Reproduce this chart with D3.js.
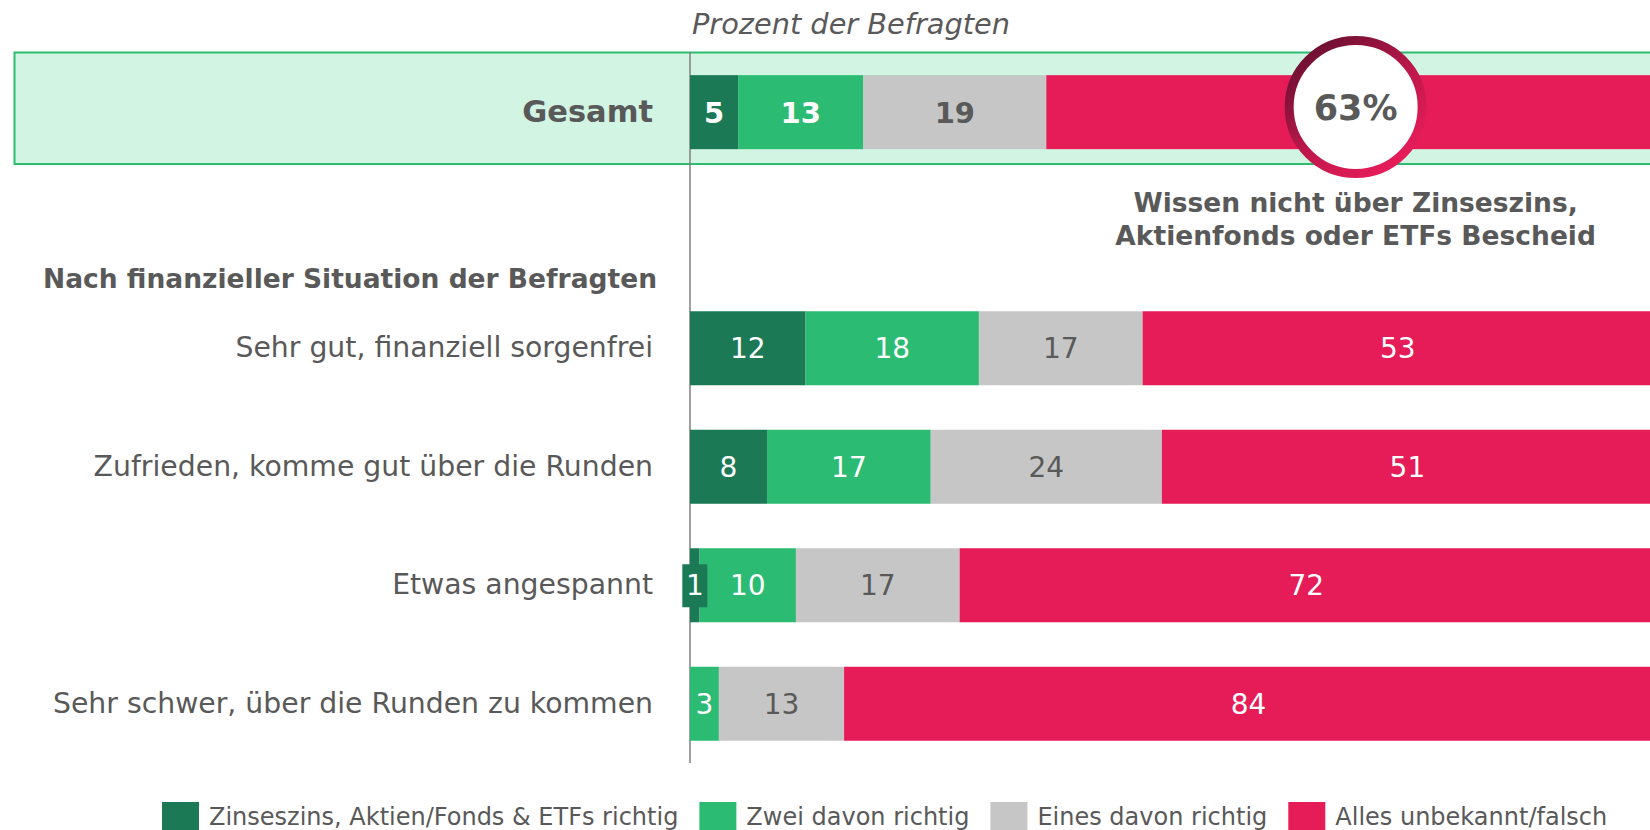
<!DOCTYPE html>
<html>
<head>
<meta charset="utf-8">
<script src="https://cdn.jsdelivr.net/npm/d3@7"></script>
<style>
  body { margin: 0; background: #fff; overflow: hidden; }
  svg text { font-family: "DejaVu Sans", "Noto Sans", sans-serif; }
</style>
</head>
<body>
<div id="chart"></div>
<script>
// Data
var totalLabel = ["Gesamt"];
var groups = ["Sehr gut, finanziell sorgenfrei", "Zufrieden, komme gut über die Runden", "Etwas angespannt", "Sehr schwer, über die Runden zu kommen"];
var seriesNames = ["Zinseszins, Aktien/Fonds & ETFs richtig", "Zwei davon richtig", "Eines davon richtig", "Alles unbekannt/falsch"];
var allRight = [5, 12, 8, 1, 0];
var twoRight = [13, 18, 17, 10, 3];
var oneRight = [19, 17, 24, 17, 13];
var noneRight = [63, 53, 51, 72, 84];
var groupTitle = "Nach finanzieller Situation der Befragten";
var axisTitle = "Prozent der Befragten";
var calloutLines = ["Wissen nicht über Zinseszins,", "Aktienfonds oder ETFs Bescheid"];

var width = 1650, height = 830;
var colors = ["#1b7a55", "#2bbb73", "#c6c6c6", "#e61c58"];
var labelColors = ["#fff", "#fff", "#595959", "#fff"];
var textGray = "#595959";

var keys = ["a", "b", "c", "d"];
var rows = [totalLabel[0]].concat(groups).map(function(name, i) {
    return {name: name, a: allRight[i], b: twoRight[i], c: oneRight[i], d: noneRight[i], total: i === 0};
});

var svg = d3.select("#chart").append("svg").attr("width", width).attr("height", height);

// scales
var x = d3.scaleLinear().domain([0, 100]).range([690, 1653]);
var yTotal = d3.scaleBand().domain(totalLabel).range([53, 171]).paddingInner(0.3755).paddingOuter(0.1878);
var yGroup = d3.scaleBand().domain(groups).range([289, 763]).paddingInner(0.3755).paddingOuter(0.1878);
function yOf(name) { return name === totalLabel[0] ? yTotal(name) : yGroup(name); }
var bh = yGroup.bandwidth();

// highlight box for the total
svg.append("rect")
    .attr("x", 14.5).attr("y", 52.5)
    .attr("width", 1700).attr("height", 111.5)
    .attr("fill", "#d1f4e3")
    .attr("stroke", "#2dbd6f").attr("stroke-width", 2);

// axis title
svg.append("text")
    .attr("x", 692).attr("y", 34)
    .attr("fill", textGray)
    .style("font-size", "28.8px").style("font-style", "italic")
    .text(axisTitle);

// vertical baseline
svg.append("line")
    .attr("x1", x(0)).attr("x2", x(0))
    .attr("y1", 52).attr("y2", 763)
    .attr("stroke", "#808080").attr("stroke-width", 1.5);

// category labels through axes
var axTotal = svg.append("g").attr("transform", "translate(" + x(0) + ",0)")
    .call(d3.axisLeft(yTotal).tickSize(0).tickPadding(37));
axTotal.select(".domain").remove();
axTotal.selectAll("text").attr("fill", textGray)
    .style("font-size", "30.5px").style("font-weight", "bold");

var axGroup = svg.append("g").attr("transform", "translate(" + x(0) + ",0)")
    .call(d3.axisLeft(yGroup).tickSize(0).tickPadding(37));
axGroup.select(".domain").remove();
axGroup.selectAll("text").attr("fill", textGray).style("font-size", "28.3px");

// group title
svg.append("text")
    .attr("x", 657).attr("y", 288)
    .attr("text-anchor", "end")
    .attr("fill", textGray)
    .style("font-size", "26.5px").style("font-weight", "bold")
    .text(groupTitle);

// stacked bars
var stack = d3.stack().keys(keys);
var series = stack(rows);

var layer = svg.selectAll(".layer")
    .data(series)
  .enter().append("g")
    .attr("class", "layer")
    .attr("fill", function(d, i) { return colors[i]; });

layer.selectAll("rect")
    .data(function(d) { return d; })
  .enter().append("rect")
    .attr("x", function(d) { return x(d[0]); })
    .attr("y", function(d) { return yOf(d.data.name); })
    .attr("width", function(d) { return x(d[1]) - x(d[0]); })
    .attr("height", bh);

// value labels
series.forEach(function(s, i) {
    s.forEach(function(d) {
        var v = d[1] - d[0];
        if (v <= 0) return;
        if (d.data.total && i === 3) return; // shown in the circle
        var cx = (x(d[0]) + x(d[1])) / 2;
        var cy = yOf(d.data.name) + bh / 2;
        if (x(d[1]) - x(d[0]) < 20) {
            svg.append("rect")
                .attr("x", cx - 12.5).attr("y", cy - 21)
                .attr("width", 25).attr("height", 43)
                .attr("fill", colors[i]);
        }
        svg.append("text")
            .attr("x", cx).attr("y", cy)
            .attr("dy", "0.36em")
            .attr("text-anchor", "middle")
            .attr("fill", labelColors[i])
            .style("font-size", d.data.total ? "29px" : "28px")
            .style("font-weight", d.data.total ? "bold" : "normal")
            .text(v);
    });
});

// callout circle for total "none right"
var totalRed = series[3][0];
var ccx = (x(totalRed[0]) + x(totalRed[1])) / 2 + 6;
var ccy = 107;

var defs = svg.append("defs");
var grad = defs.append("linearGradient").attr("id", "ring")
    .attr("x1", "15%").attr("y1", "5%").attr("x2", "85%").attr("y2", "95%");
grad.append("stop").attr("offset", "0%").attr("stop-color", "#6b0f31");
grad.append("stop").attr("offset", "55%").attr("stop-color", "#c0184c");
grad.append("stop").attr("offset", "100%").attr("stop-color", "#ea1d5b");

svg.append("circle")
    .attr("cx", ccx).attr("cy", ccy).attr("r", 66.5)
    .attr("fill", "#fff")
    .attr("stroke", "url(#ring)").attr("stroke-width", 9);

svg.append("text")
    .attr("x", ccx).attr("y", ccy)
    .attr("dy", "0.36em")
    .attr("text-anchor", "middle")
    .attr("fill", textGray)
    .style("font-size", "35px").style("font-weight", "bold")
    .text(totalRed.data.d + "%");

svg.selectAll(".callout")
    .data(calloutLines)
  .enter().append("text")
    .attr("class", "callout")
    .attr("x", ccx)
    .attr("y", function(d, i) { return 212 + i * 33; })
    .attr("text-anchor", "middle")
    .attr("fill", textGray)
    .style("font-size", "26.5px").style("font-weight", "bold")
    .text(function(d) { return d; });

// legend
var legend = svg.append("g").attr("transform", "translate(162,802)");
var lx = 0;
seriesNames.forEach(function(name, i) {
    var g = legend.append("g").attr("transform", "translate(" + lx + ",0)");
    g.append("rect").attr("width", 37).attr("height", 37).attr("fill", colors[i]);
    var t = g.append("text")
        .attr("x", 47).attr("y", 23)
        .attr("fill", textGray)
        .style("font-size", "24px")
        .text(name);
    lx += 47 + t.node().getComputedTextLength() + 21;
});
</script>
</body>
</html>
